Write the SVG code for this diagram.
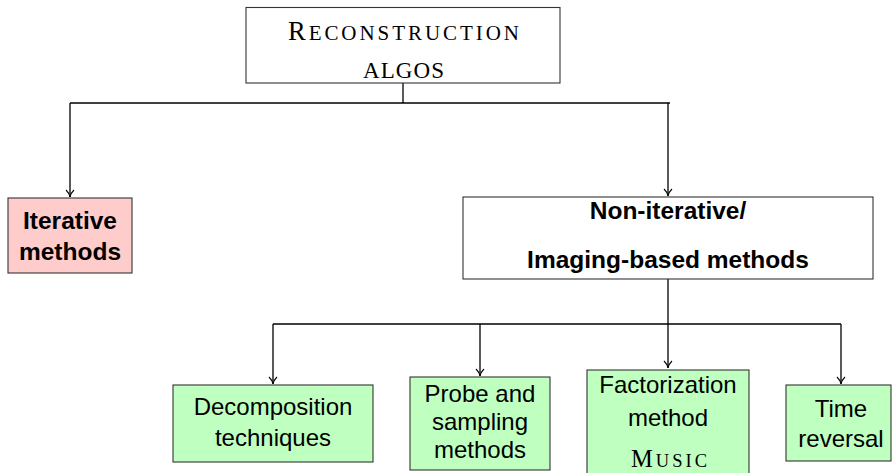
<svg xmlns="http://www.w3.org/2000/svg" width="893" height="473" viewBox="0 0 893 473">
<style>
.box{stroke:#333;stroke-width:1.1}
.white{fill:#fff}
.pink{fill:#ffcccc}
.green{fill:#bfffbf}
.sans{font-family:"Liberation Sans",Arial,sans-serif;font-size:24px;fill:#000;text-anchor:middle}
.bold{font-weight:bold;font-size:24.5px}
.sc{font-family:"Liberation Serif","Times New Roman",serif;fill:#000}
.conn{fill:none;stroke:#000;stroke-width:1.3}
</style>
<defs>
<marker id="to" markerWidth="12" markerHeight="10" refX="10" refY="5" orient="auto" markerUnits="userSpaceOnUse">
<path d="M3,1 Q6,4.2 10,5 Q6,5.8 3,9" fill="none" stroke="#000" stroke-width="1.1"/>
</marker>
</defs>
<g id="connectors">
<path class="conn" d="M403,83 V103"/>
<path class="conn" d="M70,103 H670"/>
<path class="conn" d="M70,103 V197" marker-end="url(#to)"/>
<path class="conn" d="M668,103 V196" marker-end="url(#to)"/>
<path class="conn" d="M668,279 V368" marker-end="url(#to)"/>
<path class="conn" d="M273,324 H841"/>
<path class="conn" d="M273,324 V384" marker-end="url(#to)"/>
<path class="conn" d="M480,324 V376" marker-end="url(#to)"/>
<path class="conn" d="M841,324 V384" marker-end="url(#to)"/>
</g>
<g id="root">
<rect class="box white" x="246" y="7.5" width="314" height="75.5"/>
<text class="sc" x="288" y="39.7" textLength="231" lengthAdjust="spacing"><tspan font-size="26.5">R</tspan><tspan font-size="21">ECONSTRUCTION</tspan></text>
<text class="sc" x="363" y="78" font-size="23" textLength="81" lengthAdjust="spacing">ALGOS</text>
</g>
<g id="iterative">
<rect class="box pink" x="8" y="198" width="124" height="75"/>
<text class="sans bold" x="70" y="229">Iterative</text>
<text class="sans bold" x="70" y="260">methods</text>
</g>
<g id="noniterative">
<rect class="box white" x="463" y="197" width="410" height="82"/>
<text class="sans bold" x="668" y="219">Non-iterative/</text>
<text class="sans bold" x="668" y="268">Imaging-based methods</text>
</g>
<g id="decomposition">
<rect class="box green" x="173" y="385" width="200" height="77"/>
<text class="sans" x="273" y="415">Decomposition</text>
<text class="sans" x="273" y="446">techniques</text>
</g>
<g id="probe">
<rect class="box green" x="410" y="377" width="140" height="93"/>
<text class="sans" x="480" y="402">Probe and</text>
<text class="sans" x="480" y="430">sampling</text>
<text class="sans" x="480" y="458">methods</text>
</g>
<g id="factorization">
<rect class="box green" x="587" y="370" width="162" height="110"/>
<text class="sans" x="668" y="393">Factorization</text>
<text class="sans" x="668" y="426">method</text>
<text class="sc" x="631" y="467" textLength="76" lengthAdjust="spacing"><tspan font-size="24.5">M</tspan><tspan font-size="18.5">USIC</tspan></text>
</g>
<g id="time">
<rect class="box green" x="786" y="385" width="105" height="76"/>
<text class="sans" x="841" y="417">Time</text>
<text class="sans" x="841" y="447">reversal</text>
</g>
</svg>
